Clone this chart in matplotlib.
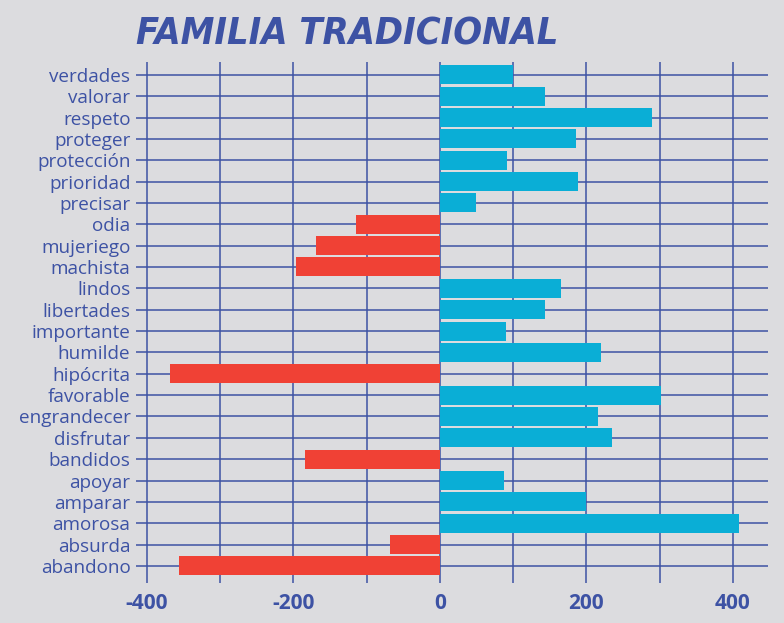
import numpy as np
from matplotlib import pyplot as plt

# data (top to bottom)
words = ['verdades', 'valorar', 'respeto', 'proteger', 'protección', 'prioridad',
         'precisar', 'odia', 'mujeriego', 'machista', 'lindos', 'libertades',
         'importante', 'humilde', 'hipócrita', 'favorable', 'engrandecer',
         'disfrutar', 'bandidos', 'apoyar', 'amparar', 'amorosa', 'absurda',
         'abandono']
scores = [100, 143, 289, 186, 91, 188, 49, -115, -169, -197, 165, 143, 90, 220,
          -369, 302, 216, 235, -184, 87, 199, 408, -68, -356]
x_ticks = [-400, -200, 0, 200, 400]

bg = '#dcdcdf'
navy = '#3d52a4'
blue = '#0aaed6'
red = '#f04135'

fig = plt.figure(figsize=(7.84, 6.23), dpi=100, facecolor=bg)
ax = fig.add_axes([0.1735, 0.0642, 0.8061, 0.8363], facecolor=bg)

pos = np.arange(len(words))[::-1]
colors = [blue if s >= 0 else red for s in scores]
ax.barh(pos, scores, height=0.89, color=colors, zorder=3)

ax.set_xlim(-415, 448)
ax.set_ylim(-0.8, len(words) - 1 + 0.6)
ax.set_yticks(pos)
ax.set_yticklabels(words, fontsize=13.6, color=navy, family='Open Sans')
ax.set_xticks(x_ticks)
ax.set_xticklabels([str(t) for t in x_ticks], fontsize=15, color=navy,
                   fontweight='bold', family='Open Sans')
ax.set_xticks(np.arange(-400, 401, 100), minor=True)
ax.tick_params(axis='y', length=0, pad=4)
ax.tick_params(axis='x', which='both', length=0, pad=7)
ax.grid(True, which='both', color=navy, linewidth=1.1, zorder=0)
for s in ax.spines.values():
    s.set_visible(False)

fig.text(0.1735, 0.945, 'FAMILIA TRADICIONAL', fontsize=27.2, color=navy,
         fontweight='bold', fontstyle='italic', fontstretch='condensed',
         family='DejaVu Sans', va='center', ha='left')

plt.savefig('out.png', facecolor=bg)
